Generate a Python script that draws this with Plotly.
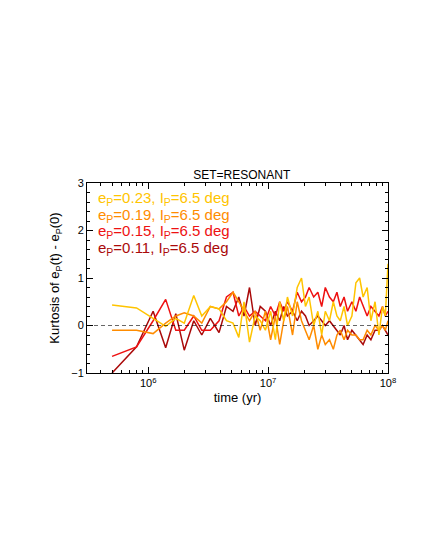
import plotly.graph_objects as go

# time grid (yr) and kurtosis values
t_early = [5e5, 8e5, 1.1e6, 1.4e6, 1.7e6, 2.0e6, 2.4e6, 2.8e6, 3.3e6, 3.9e6, 4.5e6, 5.1e6, 5.7e6, 6.3e6, 7.0e6, 7.8e6, 8.6e6]
t_late = [9.5e6, 1.05e7, 1.15e7, 1.25e7, 1.35e7, 1.45e7, 1.6e7, 1.75e7, 1.9e7, 2.05e7, 2.2e7, 2.4e7, 2.6e7, 2.8e7,
          3.0e7, 3.25e7, 3.5e7, 3.75e7, 4.0e7, 4.3e7, 4.6e7, 5.0e7, 5.4e7, 5.8e7, 6.2e7, 6.7e7, 7.2e7, 7.8e7, 8.4e7,
          9.0e7, 9.5e7, 1.0e8]
time = t_early + t_late

e23 = [0.43, 0.37, 0.15, -0.02, 0.15, 0.05, 0.63, 0.2, 0.4, 0.35, 0.1, 0.05, -0.25, 0.5, -0.35, 0.2, 0.1,
       -0.1, 0.3, -0.3, 0.5, 0.1, 0.6, 0.2, 0.8, 1.0, 0.4, 0.6, 0.0, 0.3, -0.2,
       0.3, 0.1, 0.5, 0.2, 0.1, 0.4, 0.0, 0.2, 0.9, 1.0, 0.6, 0.8, 0.1, 0.5, -0.2,
       0.4, 0.2, 1.3]
e19 = [-0.1, -0.1, -0.17, 0.05, 0.2, 0.27, 0.2, 0.05, 0.4, 0.35, 0.5, 0.7, 0.5, 0.3, 0.1, 0.3, -0.1,
       0.3, -0.3, 0.2, -0.4, 0.1, 0.4, -0.2, 0.5, 0.1, -0.1, -0.3, 0.0, -0.5, -0.2,
       -0.4, -0.3, -0.5, -0.2, -0.1, -0.3, -0.1, -0.2, -0.2, -0.3, -0.3, -0.1, -0.2, 0.0, -0.1,
       0.0, -0.1, 0.1]
e15 = [-0.65, -0.45, 0.1, 0.55, -0.1, -0.1, 0.2, -0.1, -0.1, 0.1, 0.6, 0.7, 0.2, 0.4, 0.2, 0.3, 0.2,
       0.1, 0.4, 0.2, 0.5, 0.3, 0.5, 0.3, 0.7, 0.5, 0.6, 0.8, 0.6, 0.7, 0.4,
       0.8, 0.6, 0.5, 0.7, 0.4, 0.6, 0.3, 0.5, 0.3, 0.6, 0.4, 0.2, 0.4, 0.3, 0.2,
       0.4, 0.2, 0.3]
e11 = [-1.0, -0.45, 0.3, -0.47, 0.25, -0.52, 0.1, -0.2, 0.15, -0.15, 0.4, 0.3, 0.6, 0.2, 0.8, 0.0, 0.4,
       0.3, 0.0, 0.3, 0.1, 0.4, 0.2, 0.3, 0.1, 0.3, 0.2, 0.0, 0.1, 0.2, 0.1,
       0.0, 0.1, 0.0, -0.1, -0.2, 0.0, -0.3, -0.1, -0.2, -0.3, -0.4, -0.2, -0.3, -0.1, -0.1,
       0.0, -0.1, -0.2]

labels = ["0.23", "0.19", "0.15", "0.11"]
colors = ["#ffc400", "#ff8c00", "#ee1111", "#aa0a0a"]
series = [e23, e19, e15, e11]

minor_x = [m * 10 ** d for d in (5, 6, 7) for m in range(2, 10)]

fig = go.Figure()
for vals, col in reversed(list(zip(series, colors))):
    fig.add_trace(go.Scatter(x=time, y=vals, mode='lines', line=dict(color=col, width=1.5), showlegend=False))

fig.add_hline(y=0, line=dict(color='black', width=0.6, dash='4px,3px'))

for i, (lab, col) in enumerate(zip(labels, colors)):
    fig.add_annotation(xref='paper', yref='paper', x=0.03, y=0.98 - i * 0.088, xanchor='left', yanchor='top',
                       showarrow=False, font=dict(color=col, size=15, family='Liberation Sans'),
                       text=f"e<sub>P</sub>={lab}, I<sub>P</sub>=6.5 deg")

axis = dict(showline=True, mirror='ticks', linecolor='black', ticks='inside', ticklen=6,
            tickcolor='black', showgrid=False, zeroline=False)
fig.update_layout(
    width=425, height=550,
    paper_bgcolor='white', plot_bgcolor='white',
    margin=dict(l=79, r=45, t=175, b=185),
    title=dict(text='SET=RESONANT', x=0.55, y=0.705, xanchor='center', font=dict(size=12, color='black')),
    font=dict(family='Liberation Sans', size=11, color='black'),
    xaxis=dict(type='log', range=[5.49, 8], title=dict(text='time (yr)', standoff=4),
               tickvals=[1e6, 1e7, 1e8], ticktext=['10<sup>6</sup>', '10<sup>7</sup>', '10<sup>8</sup>'],
               minor=dict(ticks='inside', ticklen=3, tickcolor='black', tickvals=minor_x, showgrid=False), **axis),
    yaxis=dict(range=[-1, 3], dtick=1, title=dict(text='Kurtosis of e<sub>P</sub>(t) - e<sub>P</sub>(0)', standoff=8),
               minor=dict(ticks='inside', ticklen=3, tickcolor='black', dtick=0.2, showgrid=False), **axis),
)

fig.write_html("out.html")
